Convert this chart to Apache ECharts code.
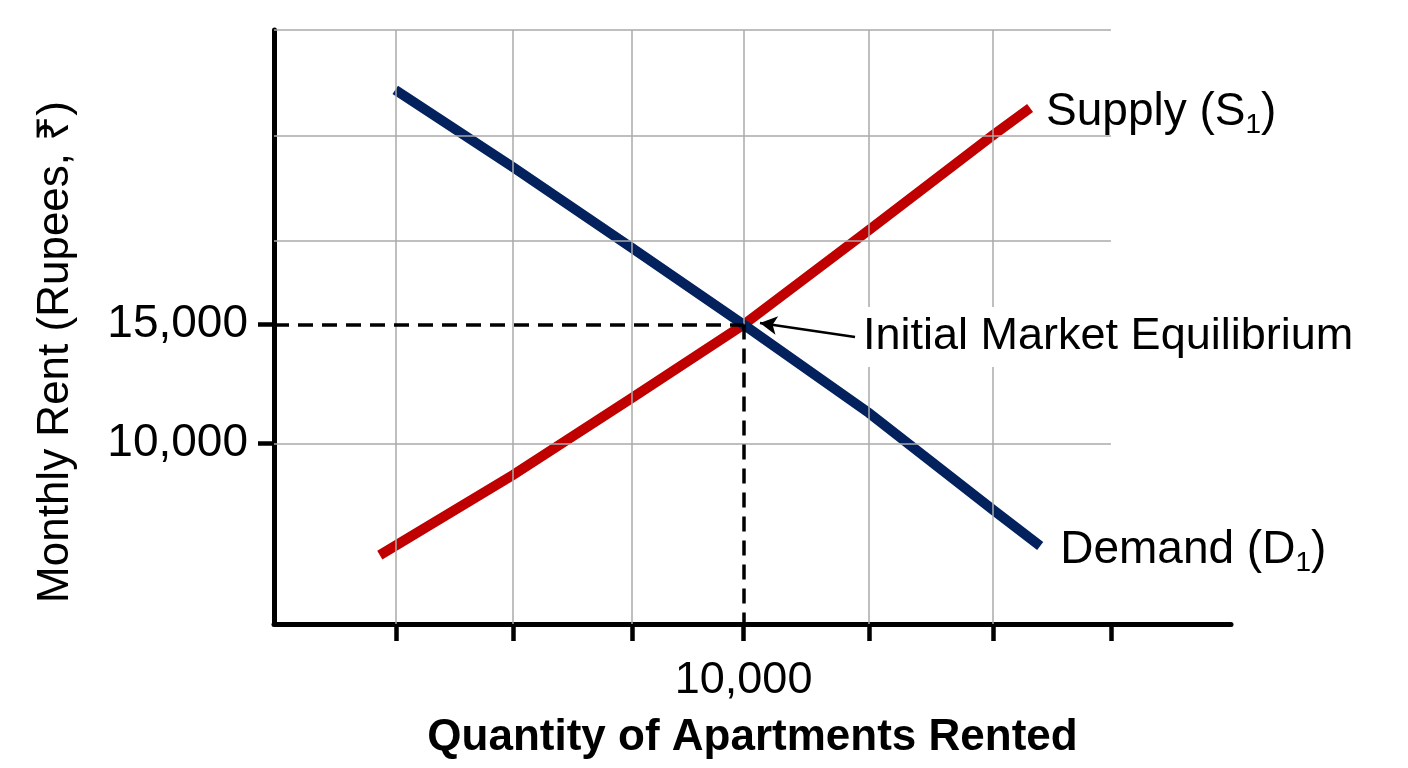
<!DOCTYPE html>
<html>
<head>
<meta charset="utf-8">
<script src="https://cdn.jsdelivr.net/npm/echarts@6/dist/echarts.min.js"></script>
<style>
html,body{margin:0;padding:0;background:#fff;}
#chart{width:1408px;height:768px;}
</style>
</head>
<body>
<div id="chart"></div>
<script>
// ---- data ----
const xRange = [2100, 18200];
const yRange = [2400, 27400];
const xTickValues = [4150, 6120, 8120, 10000, 12110, 14200, 16180];
const xLabelValues = [10000];
const yTickValues = [10000, 15000];
const xGridValues = [4150, 6120, 8120, 10000, 12110, 14200];
const yGridValues = [10000, 18520, 22950, 27400];
const supplyQty  = [3880, 6120, 8120, 10000, 12110, 14200, 14820];
const supplyRent = [5300, 8670, 11910, 15000, 18980, 22980, 24120];
const demandQty  = [4140, 6120, 8120, 10000, 12110, 14200, 14990];
const demandRent = [24880, 21630, 18230, 15000, 11280, 7200, 5680];
const equilibrium = [10000, 15000];
const arrowFrom = [11875, 14479];
const arrowTo = [10276, 15068];
const supplyLabel = ['Supply (S', '1', ')'];
const demandLabel = ['Demand (D', '1', ')'];
const eqLabel = 'Initial Market Equilibrium';
const xTitle = 'Quantity of Apartments Rented';
const yTitle = 'Monthly Rent (Rupees, ₹)';

const FONT = '"Liberation Sans", Arial, Helvetica, sans-serif';
const fmt = v => Number(v).toLocaleString('en-US');
const zip = (a, b) => a.map((v, i) => [v, b[i]]);
const gridEndX = xTickValues[xTickValues.length - 1];

const gridLines = [];
xGridValues.forEach(x => {
  const y0 = (x === equilibrium[0]) ? equilibrium[1] : yRange[0];
  gridLines.push([{coord: [x, y0]}, {coord: [x, yRange[1]]}]);
});
yGridValues.forEach(y => {
  gridLines.push([{coord: [xRange[0], y]}, {coord: [gridEndX, y]}]);
});

const rich = {
  m: {fontSize: 46, lineHeight: 54, fontFamily: FONT, color: '#000'},
  s: {fontSize: 28, lineHeight: 32, verticalAlign: 'bottom', fontFamily: FONT, color: '#000'}
};
const richText = p => '{m|' + p[0] + '}{s|' + p[1] + '}{m|' + p[2] + '}';

const chart = echarts.init(document.getElementById('chart'), null, {renderer: 'canvas'});
chart.setOption({
  animation: false,
  backgroundColor: '#fff',
  grid: {left: 274, right: 177, top: 30, bottom: 144, containLabel: false},
  xAxis: {
    type: 'value', min: xRange[0], max: xRange[1],
    axisLine: {show: true, lineStyle: {color: '#000', width: 5}},
    axisTick: {show: true, customValues: xTickValues, length: 17, lineStyle: {color: '#000', width: 4.5}},
    axisLabel: {show: true, customValues: xLabelValues, formatter: fmt, fontSize: 45, color: '#000', fontFamily: FONT, margin: 34},
    splitLine: {show: false},
    name: xTitle, nameLocation: 'middle', nameGap: 92,
    nameTextStyle: {fontSize: 44, fontWeight: 'bold', color: '#000', fontFamily: FONT}
  },
  yAxis: {
    type: 'value', min: yRange[0], max: yRange[1],
    axisLine: {show: true, lineStyle: {color: '#000', width: 5}},
    axisTick: {show: true, customValues: yTickValues, length: 16, lineStyle: {color: '#000', width: 4.5}},
    axisLabel: {show: true, customValues: yTickValues, formatter: fmt, fontSize: 46, color: '#000', fontFamily: FONT, margin: 26},
    splitLine: {show: false}
  },
  graphic: [{
    type: 'text', x: 56, y: 352, rotation: Math.PI / 2,
    style: {text: yTitle, fontSize: 44, fontFamily: FONT, fill: '#000', align: 'center', verticalAlign: 'middle'}
  }],
  series: [
    {
      name: 'grid', type: 'line', data: [], z: 1, silent: true,
      markLine: {silent: true, symbol: ['none', 'none'], label: {show: false},
        lineStyle: {color: '#aaaaaa', width: 1.5, type: 'solid'}, data: gridLines}
    },
    {
      name: 'guides', type: 'line', data: [], z: 2, silent: true,
      markLine: {silent: true, symbol: ['none', 'none'], label: {show: false},
        lineStyle: {color: '#000', width: 3.5, type: [15, 9]},
        data: [
          [{coord: [xRange[0], equilibrium[1]]}, {coord: equilibrium.slice()}],
          [{coord: equilibrium.slice()}, {coord: [equilibrium[0], yRange[0]]}]
        ]}
    },
    {
      name: 'Supply (S1)', type: 'line', z: 3, data: zip(supplyQty, supplyRent),
      showSymbol: false, symbol: 'none',
      lineStyle: {color: '#c00000', width: 10, cap: 'butt', join: 'miter'},
      endLabel: {show: true, formatter: () => richText(supplyLabel), distance: 16, offset: [0, 4], rich: rich}
    },
    {
      name: 'Demand (D1)', type: 'line', z: 4, data: zip(demandQty, demandRent),
      showSymbol: false, symbol: 'none',
      lineStyle: {color: '#03215c', width: 10, cap: 'butt', join: 'miter'},
      endLabel: {show: true, formatter: () => richText(demandLabel), distance: 20, offset: [0, 4], rich: rich}
    },
    {
      name: 'annotation', type: 'line', data: [], z: 5, silent: true,
      markLine: {silent: true, symbol: ['none', 'arrow'], symbolSize: [14, 17], label: {show: false},
        lineStyle: {color: '#000', width: 2.5, type: 'solid'},
        data: [[{coord: arrowFrom.slice()}, {coord: arrowTo.slice()}]]},
      markPoint: {silent: true, symbol: 'circle', symbolSize: 0,
        label: {show: true, position: 'right', distance: 4, formatter: eqLabel,
          fontSize: 45, lineHeight: 54, fontFamily: FONT, color: '#000',
          backgroundColor: '#fff', padding: [3, 4, 3, 4]},
        data: [{coord: arrowFrom.slice()}]}
    }
  ]
});
</script>
</body>
</html>
